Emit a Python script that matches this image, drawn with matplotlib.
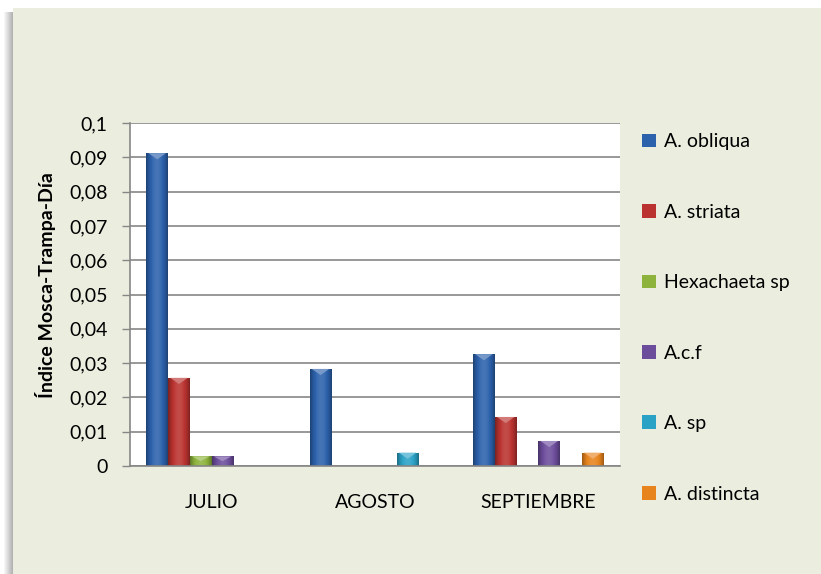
import matplotlib
matplotlib.use("Agg")
import matplotlib.pyplot as plt
import numpy as np
from matplotlib.patches import Rectangle, Polygon
from matplotlib.colors import to_rgb

months = ["JULIO", "AGOSTO", "SEPTIEMBRE"]
species = ["A. obliqua", "A. striata", "Hexachaeta sp", "A.c.f", "A. sp", "A. distincta"]
a_obliqua = [0.0912, 0.0283, 0.0326]
a_striata = [0.0257, 0.0, 0.0143]
hexachaeta = [0.0028, 0.0, 0.0]
a_cf = [0.0028, 0.0, 0.0073]
a_sp = [0.0, 0.0039, 0.0]
a_distincta = [0.0, 0.0, 0.0039]
yticks = [0, 0.01, 0.02, 0.03, 0.04, 0.05, 0.06, 0.07, 0.08, 0.09, 0.1]
ytick_labels = ["0", "0,01", "0,02", "0,03", "0,04", "0,05", "0,06", "0,07", "0,08", "0,09", "0,1"]
ylabel = "Índice Mosca-Trampa-Día"

series = [a_obliqua, a_striata, hexachaeta, a_cf, a_sp, a_distincta]
colors = ["#2C62AC", "#BA3330", "#8DB33C", "#6C4D9C", "#2AA2C6", "#E8841E"]

plt.rcParams["font.family"] = ["Lato", "DejaVu Sans"]

W, H = 821, 574
fig = plt.figure(figsize=(W / 100, H / 100), dpi=100)
fig.patch.set_facecolor("white")

# panel with left shadow
for i in range(9):
    a = 0.05 + 0.05 * i
    fig.patches.append(Rectangle(((4 + i) / W, 0), 1 / W, (H - 12) / H,
                                 transform=fig.transFigure, facecolor="#555555",
                                 alpha=a, edgecolor="none", zorder=0))
fig.patches.append(Rectangle((12.7 / W, 0), 1, (H - 8.3) / H,
                             transform=fig.transFigure, facecolor="#EBEEDF",
                             edgecolor="none", zorder=0.5))

ax = fig.add_axes([130 / W, 1 - 466 / H, 490 / W, 343 / H])
ax.set_facecolor("white")
ax.set_zorder(2)

n = len(series)
bw = 1.0 / (n + 1.5)
x = np.arange(len(months))


def shade(c, f):
    c = np.array(to_rgb(c))
    if f < 1:
        return c * f
    return c + (1 - c) * (f - 1)


for i, (vals, col) in enumerate(zip(series, colors)):
    pos = x - 0.5 + 0.75 * bw + (i + 0.5) * bw
    bars = ax.bar(pos, vals, width=bw, color=col, edgecolor="none", zorder=3, label=species[i])
    prof = np.linspace(-1, 1, 64)
    fac = 1.12 - 0.45 * prof ** 2
    grad = np.array([[shade(col, f) for f in fac]])
    for b, v in zip(bars, vals):
        if v <= 0:
            continue
        x0, w_ = b.get_x(), b.get_width()
        im = ax.imshow(grad, extent=[x0, x0 + w_, 0, v], aspect="auto", zorder=3.5,
                       interpolation="bilinear")
        im.set_clip_path(b)
        h = min(0.0018, v * 0.5)
        tri = Polygon([[x0 + w_ * 0.1, v], [x0 + w_ * 0.9, v], [x0 + w_ * 0.5, v - h]],
                      closed=True, facecolor=shade(col, 1.35), edgecolor="none", zorder=4)
        ax.add_patch(tri)

ax.set_xlim(-0.5, len(months) - 0.5)
ax.set_ylim(0, 0.1)
ax.set_yticks(yticks)
ax.set_yticklabels(ytick_labels, fontsize=14)
ax.set_xticks(x)
ax.set_xticklabels(months, fontsize=14)
ax.tick_params(axis="x", length=0, pad=20)
ax.tick_params(axis="y", length=6, width=1, color="#868686", pad=10)
ax.grid(axis="y", color="#868686", linewidth=1.2, zorder=1)
ax.set_axisbelow(True)
for s in ["top", "right"]:
    ax.spines[s].set_visible(False)
for s in ["left", "bottom"]:
    ax.spines[s].set_color("#868686")
    ax.spines[s].set_linewidth(1.2)
    ax.spines[s].set_zorder(5)

fig.text(46 / W, 1 - 285 / H, ylabel, rotation=90, ha="center", va="center",
         fontsize=14, fontweight="bold")

leg = ax.legend(loc="center left", bbox_to_anchor=(642 / W, 1 - 318 / H),
                bbox_transform=fig.transFigure, frameon=False, fontsize=14,
                handlelength=0.72, handleheight=0.72, handletextpad=0.4,
                labelspacing=2.75, borderpad=0, borderaxespad=0)

fig.savefig("out.png", dpi=100, facecolor=fig.get_facecolor())
